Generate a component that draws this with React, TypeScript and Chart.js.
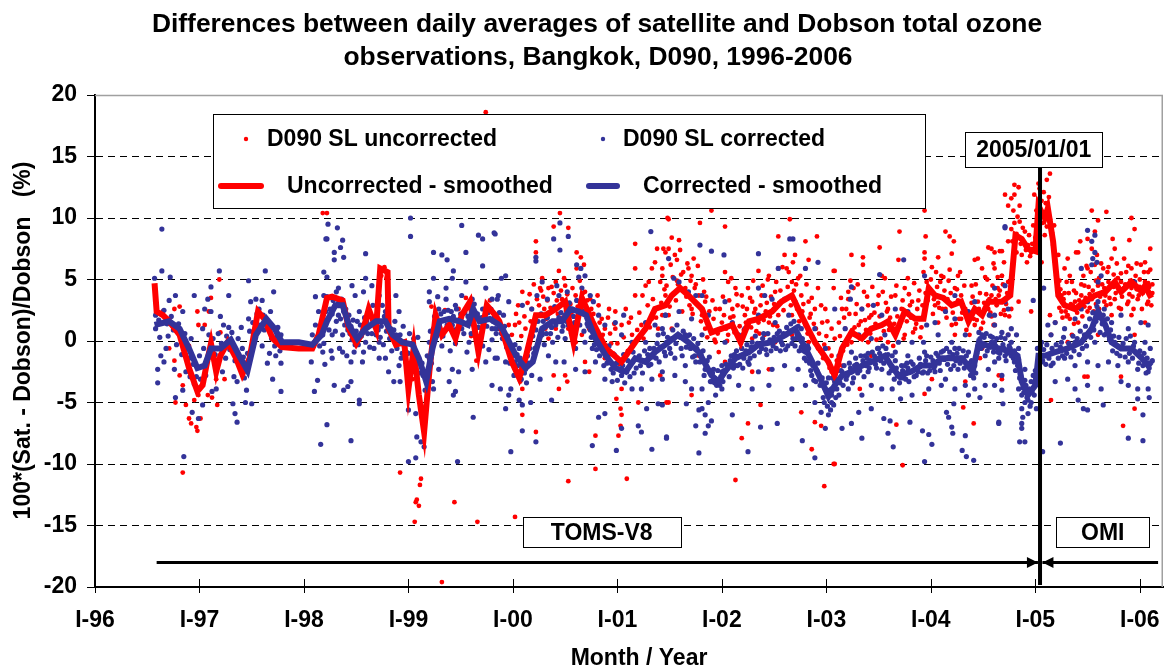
import React, { useEffect, useRef } from "react";
import { Chart, registerables } from "chart.js";

Chart.register(...registerables);

const FONT = "'Liberation Sans', Arial, Helvetica, sans-serif";
const RED = "#FF0000";
const BLUE = "#333399";

const titleLines = [
  "Differences between daily averages of satellite and Dobson total ozone",
  "observations, Bangkok, D090, 1996-2006",
];
const yAxisTitle = "100*(Sat. - Dobson)/Dobson   (%)";
const xAxisTitle = "Month / Year";

const yearTicks = [1996, 1997, 1998, 1999, 2000, 2001, 2002, 2003, 2004, 2005, 2006];
const yearLabels = ["I-96", "I-97", "I-98", "I-99", "I-00", "I-01", "I-02", "I-03", "I-04", "I-05", "I-06"];
const valueTicks = [20, 15, 10, 5, 0, -5, -10, -15, -20];

const seriesNames = ["D090 SL uncorrected", "D090 SL corrected", "Uncorrected - smoothed", "Corrected - smoothed"];
const changeDate = 2005.045;
const changeLabel = "2005/01/01";
const periodLabels = ["TOMS-V8", "OMI"];
const arrowLevel = -18;

// Smoothed series [decimal year, %]
const uncorrectedSmoothed: [number, number][] = [
  [1996.57,4.7],[1996.59,2.4],[1996.65,2.1],[1996.71,1.6],[1996.81,0.5],[1996.90,-2.2],[1996.98,-4.1],[1997.03,-3.6],
  [1997.08,-1.4],[1997.11,-0.2],[1997.16,-2.5],[1997.20,-1.2],[1997.27,-0.1],[1997.35,-1.4],[1997.41,-2.7],[1997.48,-1.4],
  [1997.56,2.4],[1997.62,1.8],[1997.70,0.2],[1997.79,-0.5],[1997.95,-0.6],[1998.08,-0.6],[1998.14,0.5],[1998.22,3.5],
  [1998.27,3.6],[1998.37,3.3],[1998.43,1.0],[1998.50,-0.2],[1998.56,0.7],[1998.62,2.6],[1998.69,1.0],[1998.73,5.9],
  [1998.80,5.6],[1998.81,1.0],[1998.88,-0.3],[1998.96,-0.1],[1999.00,-3.9],[1999.05,-0.6],[1999.10,-4.4],[1999.15,-7.4],
  [1999.20,-2.5],[1999.26,2.1],[1999.32,0.5],[1999.39,1.3],[1999.45,0.2],[1999.51,2.1],[1999.59,3.2],[1999.67,-0.9],
  [1999.75,2.9],[1999.83,2.1],[1999.87,1.6],[1999.99,-1.7],[2000.06,-3.0],[2000.12,-1.4],[2000.22,2.1],[2000.31,2.1],
  [2000.41,2.6],[2000.50,3.2],[2000.58,-0.1],[2000.66,3.5],[2000.76,1.6],[2000.89,-0.6],[2001.04,-1.7],[2001.17,-0.1],
  [2001.27,1.0],[2001.36,2.6],[2001.46,2.9],[2001.52,3.7],[2001.60,4.3],[2001.68,3.7],[2001.81,2.6],[2001.90,0.7],
  [2002.00,1.0],[2002.10,1.3],[2002.18,-0.1],[2002.26,1.6],[2002.35,1.8],[2002.48,2.4],[2002.57,3.2],[2002.67,3.7],
  [2002.76,2.1],[2002.89,-0.1],[2003.02,-1.7],[2003.08,-2.8],[2003.15,-0.6],[2003.24,0.7],[2003.34,0.2],[2003.43,1.0],
  [2003.53,1.3],[2003.59,1.6],[2003.66,0.5],[2003.75,2.4],[2003.85,1.8],[2003.93,1.8],[2003.98,4.3],[2004.04,3.7],
  [2004.12,3.5],[2004.20,2.9],[2004.29,3.2],[2004.36,1.6],[2004.42,2.6],[2004.49,2.1],[2004.55,3.2],[2004.68,3.2],
  [2004.76,3.7],[2004.81,8.6],[2004.87,8.3],[2004.93,7.5],[2005.00,7.3],[2005.03,11.0],[2005.09,10.0],[2005.12,10.8],
  [2005.17,8.1],[2005.22,3.7],[2005.28,2.9],[2005.38,2.6],[2005.47,3.2],[2005.57,3.7],[2005.67,4.0],[2005.76,4.8],
  [2005.82,4.0],[2005.92,4.8],[2006.02,4.0],[2006.05,4.5],[2006.11,3.5],
];

const correctedSmoothed: [number, number][] = [
  [1996.57,1.3],[1996.71,1.6],[1996.81,1.0],[1996.90,-0.6],[1996.98,-2.2],[1997.05,-2.0],[1997.11,-0.6],[1997.20,-0.6],
  [1997.30,0.1],[1997.38,-1.2],[1997.46,-2.4],[1997.54,0.5],[1997.64,1.8],[1997.72,1.0],[1997.79,-0.1],[1997.95,-0.1],
  [1998.08,-0.3],[1998.17,0.5],[1998.22,1.6],[1998.30,2.9],[1998.37,2.9],[1998.43,1.3],[1998.51,0.2],[1998.59,1.0],
  [1998.69,1.6],[1998.78,1.6],[1998.85,0.5],[1998.94,-0.1],[1999.04,-0.3],[1999.10,-1.4],[1999.17,-3.3],[1999.23,-0.6],
  [1999.30,1.6],[1999.39,1.8],[1999.49,1.6],[1999.57,1.3],[1999.62,2.6],[1999.68,1.6],[1999.78,1.8],[1999.87,1.3],
  [1999.90,1.0],[2000.03,-1.2],[2000.12,-2.2],[2000.19,-1.7],[2000.28,1.0],[2000.38,1.6],[2000.47,1.6],[2000.55,2.6],
  [2000.63,2.4],[2000.70,2.1],[2000.79,0.2],[2000.89,-1.2],[2000.98,-2.2],[2001.08,-2.5],[2001.17,-1.4],[2001.27,-1.7],
  [2001.36,-0.9],[2001.46,-0.3],[2001.58,0.5],[2001.68,-0.1],[2001.78,-0.9],[2001.90,-2.8],[2001.97,-3.3],[2002.03,-2.5],
  [2002.13,-1.4],[2002.26,-0.9],[2002.35,-0.3],[2002.48,-0.1],[2002.61,0.5],[2002.70,1.0],[2002.80,-0.6],[2002.93,-2.8],
  [2003.02,-4.5],[2003.08,-3.6],[2003.15,-2.8],[2003.24,-2.5],[2003.34,-2.0],[2003.43,-1.7],[2003.56,-1.2],[2003.62,-2.0],
  [2003.69,-2.8],[2003.81,-2.5],[2003.91,-2.0],[2004.01,-2.0],[2004.11,-1.4],[2004.20,-1.4],[2004.30,-1.4],[2004.40,-2.5],
  [2004.46,-0.1],[2004.55,-0.4],[2004.65,-0.6],[2004.78,-0.9],[2004.83,-1.2],[2004.87,-3.3],[2004.93,-4.4],[2005.00,-3.6],
  [2005.03,-1.2],[2005.09,-1.2],[2005.19,-0.9],[2005.31,-0.6],[2005.44,-0.1],[2005.54,1.0],[2005.60,2.4],[2005.67,1.3],
  [2005.73,-0.1],[2005.82,-0.6],[2005.92,-0.6],[2006.02,-1.4],[2006.08,-2.0],[2006.11,-1.7],
];

// Daily values [decimal year, %], uncorrected
const uncorrectedDaily: [number, number][] = [
  [1997.19,5.0],[1996.84,-10.7],[1996.65,2.4],[1996.76,2.6],[1996.81,2.8],[1996.98,2.4],[1997.05,1.3],[1997.09,2.4],
  [1997.11,3.5],[1997.20,0.7],[1996.81,-2.8],[1996.84,-3.6],[1996.77,-5.0],[1996.87,-5.2],[1996.90,-6.3],[1996.92,-6.7],
  [1996.97,-7.0],[1996.98,-7.3],[1997.01,-6.3],[1996.95,-4.8],[1996.99,-4.4],[1997.08,-4.4],[1997.12,-4.6],[1997.17,-5.2],
  [1996.76,-1.6],[1996.71,-0.6],[1996.90,-0.4],[1996.99,1.3],[1997.16,-3.1],[1997.24,-3.1],[1998.18,10.4],[1998.08,-0.6],
  [1998.22,10.4],[1999.74,18.6],[1998.92,-10.7],[1999.12,-11.2],[1999.11,-11.7],[1999.08,-12.9],[1999.10,-13.4],[1999.07,-13.1],
  [1999.06,-14.7],[1999.44,-13.1],[1999.66,-14.7],[1999.32,-19.6],[1998.97,-1.7],[1999.04,-3.1],
  [1999.22,2.8],[1999.28,1.6],[1999.35,2.5],[1999.48,2.6],[1999.55,3.5],[1999.60,0.4],[1999.65,-1.6],[1999.70,1.8],
  [1999.78,3.3],[1998.74,5.3],[1998.77,6.0],[1998.79,5.1],
  [2000.45,10.4],[2000.39,9.3],[2000.53,9.2],[2000.22,8.1],[2000.22,7.2],[2000.61,7.2],[2000.65,6.8],[2000.68,6.2],
  [2000.44,5.7],[2000.49,5.1],[2000.61,5.9],[2000.28,5.1],[2000.26,4.3],[2000.09,4.0],[2000.34,4.3],[2000.41,4.8],
  [2000.50,4.5],[2000.57,4.3],[2000.69,4.0],[2000.74,3.4],[2000.81,3.7],[2000.82,2.9],[2000.92,2.6],[2000.98,2.4],
  [2001.08,2.6],[2001.17,3.7],[2001.17,5.9],[2001.33,5.9],[2001.36,6.4],[2001.38,7.5],[2001.46,7.2],[2001.27,4.5],
  [2001.24,3.7],[2001.30,4.8],[2001.43,5.3],[2001.17,7.9],[2001.48,10.0],
  [1999.96,1.3],[2000.02,1.3],[2000.06,1.5],[1999.99,0.5],[1999.86,1.5],[2000.12,1.0],[2000.18,2.6],[2000.31,1.0],
  [2000.34,0.2],[2000.41,1.0],[2000.53,1.0],[2000.66,0.5],[2000.73,1.0],[2000.79,0.5],[2000.88,1.0],[2000.98,1.0],
  [2001.04,1.3],[2001.11,1.5],[2001.14,0.5],[2001.23,1.3],[2001.33,1.8],[2001.43,2.1],[2001.39,1.0],[2000.85,1.8],
  [2000.02,-2.3],[2000.07,-3.3],[2000.09,-6.0],[2000.09,-3.9],[2000.06,-2.5],[2000.22,-7.4],[2000.79,-7.7],[2000.79,-10.4],
  [2000.53,-11.4],[2001.09,-11.2],[2001.01,-7.7],[2001.03,-6.9],[2001.04,-6.0],[2001.03,-5.5],[2000.99,-4.7],[2001.04,-3.9],
  [2001.49,-5.0],[2001.20,-5.0],[2000.02,-14.3],[2000.39,-2.8],[2000.44,-3.9],[2000.52,-3.3],[2000.60,-0.1],[2000.69,-1.7],
  [2000.73,-2.5],[2000.88,-1.4],[2000.50,-2.8],
  [2000.03,2.2],[2000.08,0.4],[2000.14,3.1],[2000.17,1.6],[2000.20,4.6],[2000.25,2.9],[2000.29,3.6],[2000.32,1.8],
  [2000.36,2.7],[2000.39,3.9],[2000.43,2.2],[2000.47,3.4],[2000.51,2.5],[2000.55,3.0],[2000.59,1.2],[2000.62,2.8],
  [2000.64,4.9],[2000.70,2.6],[2000.72,1.9],[2000.77,2.2],[2000.80,0.9],[2000.84,0.2],[2000.90,-0.4],[2000.93,0.6],
  [2000.96,-1.0],[2001.00,-0.2],[2001.02,-1.9],[2001.06,0.3],[2001.10,-0.8],[2001.13,1.9],[2001.19,0.9],[2001.21,2.3],
  [2001.25,0.2],[2001.29,2.9],[2001.31,1.1],[2001.34,3.4],[2001.37,1.9],
  [2000.05,2.9],[2000.11,2.0],[2000.16,3.8],[2000.19,0.9],[2000.23,3.4],[2000.27,4.1],[2000.30,2.6],[2000.33,3.3],
  [2000.37,4.4],[2000.42,3.3],[2000.46,4.1],[2000.48,1.9],[2000.52,3.8],[2000.56,2.2],[2000.60,3.7],[2000.63,2.1],
  [2000.67,3.9],[2000.71,3.3],[2000.75,2.6],[2000.78,1.3],[2000.83,1.5],[2000.86,0.5],[2000.91,1.9],[2000.94,-0.2],
  [2000.97,1.4],
  [2001.90,10.6],[2001.49,9.9],[2002.65,9.9],[2001.79,9.6],[2002.03,9.3],[2001.52,8.4],[2001.59,8.2],[2002.54,8.5],
  [2002.80,8.1],[2002.91,8.5],[2001.44,7.5],[2001.49,7.5],[2001.60,7.4],[2001.73,6.7],[2001.55,7.0],[2001.68,5.9],
  [2002.03,5.6],[2002.35,5.7],[2002.60,7.0],[2002.70,7.0],[2002.83,6.6],[2002.45,5.3],[2002.54,5.9],[2002.62,5.9],
  [2002.73,5.1],[2003.07,5.7],[2002.92,4.3],[2001.41,4.8],[2001.46,3.7],[2001.57,4.9],[2001.65,4.3],[2001.74,4.3],
  [2001.84,3.2],[2001.78,3.7],[2001.94,2.6],[2002.06,4.8],[2002.13,4.3],[2002.19,3.7],[2002.25,4.3],[2002.29,3.2],
  [2002.38,3.7],[2002.51,4.0],[2002.67,4.8],[2002.76,3.7],[2002.83,3.2],[2002.89,2.6],[2002.96,1.5],[2003.05,1.0],
  [2002.99,2.6],[2001.49,2.1],[2001.71,2.6],[2001.81,2.1],[2002.00,1.5],[2002.10,2.6],[2002.22,2.1],[2002.35,1.5],
  [2002.45,1.5],[2002.54,2.1],[2002.67,2.1],[2002.80,1.3],[2001.52,1.0],[2001.65,0.5],[2001.84,1.0],[2001.94,-0.1],
  [2002.06,0.5],[2002.19,-0.6],[2002.29,0.2],[2002.41,0.5],[2002.51,-0.1],[2002.67,0.5],[2002.83,-0.1],[2002.92,-0.6],
  [2003.02,-0.6],[2001.78,-1.2],[2001.97,-0.9],[2002.03,-1.7],[2002.29,-2.5],[2002.45,-2.3],[2001.41,-2.8],[2001.71,-4.4],
  [2001.47,-5.0],[2002.37,-5.2],[2002.76,-5.8],[2002.25,-6.7],[2002.89,-6.6],[2002.95,-6.9],[2002.19,-7.9],[2003.07,-10.0],
  [2002.13,-11.3],[2002.98,-11.8],[2002.86,-8.8],
  [2001.42,3.1],[2001.45,4.2],[2001.50,2.8],[2001.53,5.2],[2001.56,3.3],[2001.58,4.6],[2001.62,2.4],[2001.63,5.6],
  [2001.66,3.6],[2001.70,4.9],[2001.72,2.2],[2001.76,3.0],[2001.80,1.6],[2001.83,4.0],[2001.86,0.3],[2001.88,2.4],
  [2001.92,1.8],[2001.96,0.6],[2002.02,2.1],[2002.05,0.0],[2002.08,1.9],[2002.12,0.7],[2002.15,2.9],[2002.17,1.2],
  [2002.21,0.9],[2002.24,2.6],[2002.28,1.1],[2002.31,2.3],[2002.33,0.8],[2002.37,2.9],[2002.40,1.7],[2002.43,3.1],
  [2002.46,2.0],[2002.50,3.0],[2002.53,1.2],[2002.56,4.1],[2002.59,2.5],[2002.63,4.4],[2002.66,2.9],[2002.69,4.1],
  [2002.72,2.6],[2002.74,1.6],[2002.78,3.0],[2002.82,0.6],[2002.85,2.2],[2002.87,0.3],[2002.90,1.0],[2002.94,-0.8],
  [2002.97,-1.4],[2003.00,0.4],[2003.03,-2.2],[2003.06,-3.0],[2003.10,-1.6],
  [2001.43,5.9],[2001.47,4.5],[2001.51,6.2],[2001.54,3.9],[2001.57,6.6],[2001.61,5.4],[2001.64,4.2],[2001.67,6.3],
  [2001.69,2.9],[2001.71,5.3],[2001.75,4.6],[2001.77,6.1],[2001.82,5.0],[2001.85,3.6],[2001.87,1.3],[2001.91,3.3],
  [2001.93,0.1],[2001.98,2.6],[2002.01,3.6],[2002.04,1.0],[2002.07,3.3],[2002.09,5.1],[2002.11,2.0],[2002.14,3.8],
  [2002.16,0.4],[2002.20,2.8],[2002.23,1.5],[2002.27,3.5],[2002.30,4.9],[2002.32,2.6],[2002.36,0.6],[2002.39,4.5],
  [2002.42,2.4],[2002.44,5.0],[2002.47,3.6],[2002.49,1.3],[2002.52,4.8],[2002.55,3.1],[2002.58,6.0],[2002.61,3.4],
  [2002.64,5.6],[2002.68,6.4],[2002.71,4.6],[2002.75,5.3],[2002.77,2.4],[2002.81,4.6],[2002.84,1.9],[2002.86,3.5],
  [2002.88,1.4],[2002.93,0.6],[2002.95,2.9],[2002.98,-0.3],[2003.01,1.6],
  [2003.94,10.6],[2003.70,8.9],[2004.14,8.9],[2004.18,8.5],[2004.22,8.1],[2003.95,8.5],[2003.51,7.6],[2003.24,7.0],
  [2003.35,6.8],[2003.35,6.2],[2003.69,6.6],[2003.94,7.2],[2003.94,6.7],[2004.07,6.8],[2004.20,7.1],[2004.42,6.6],
  [2004.45,6.7],[2004.55,7.6],[2004.61,7.2],[2004.68,7.3],[2004.60,6.3],[2003.08,5.7],[2003.07,4.3],[2003.21,4.0],
  [2003.26,4.3],[2003.53,5.3],[2003.56,5.1],[2003.75,4.3],[2003.78,5.1],[2003.93,5.6],[2003.96,4.8],[2004.10,5.3],
  [2004.17,4.9],[2004.26,5.3],[2004.23,4.3],[2004.39,4.5],[2004.49,5.9],[2004.52,5.2],[2004.68,5.3],[2003.15,2.6],
  [2003.21,3.4],[2003.34,2.6],[2003.40,2.9],[2003.50,3.7],[2003.66,3.7],[2003.43,2.1],[2003.59,2.6],[2003.72,2.6],
  [2003.82,3.2],[2004.04,2.9],[2004.14,2.6],[2004.29,3.7],[2004.33,2.6],[2004.45,3.2],[2004.55,2.6],[2004.65,3.7],
  [2004.71,2.1],[2003.12,1.5],[2003.18,1.0],[2003.31,1.3],[2003.53,1.3],[2003.66,1.0],[2003.85,1.0],[2004.07,1.5],
  [2004.20,1.3],[2004.29,1.8],[2004.42,1.3],[2004.61,1.3],[2003.08,0.2],[2003.24,-0.1],[2003.40,-0.1],[2003.59,-0.1],
  [2003.75,0.5],[2004.23,0.5],[2004.49,-0.6],[2003.05,-1.2],[2003.05,-2.5],[2003.15,-2.0],[2003.43,-1.2],[2004.01,-3.1],
  [2004.33,-3.3],[2004.47,-1.4],[2003.08,-3.3],[2003.32,-3.9],[2003.94,-4.3],[2004.31,-5.4],[2003.67,-6.8],[2004.41,-6.7],
  [2003.08,-10.0],[2003.73,-10.1],[2004.65,-2.8],
  [2003.13,0.4],[2003.17,1.9],[2003.20,-0.3],[2003.22,2.2],[2003.27,1.1],[2003.29,3.0],[2003.32,0.2],[2003.37,1.7],
  [2003.39,3.6],[2003.42,0.6],[2003.46,2.3],[2003.48,0.1],[2003.51,2.0],[2003.55,0.8],[2003.57,3.1],[2003.61,1.9],
  [2003.64,-0.4],[2003.68,2.0],[2003.70,1.2],[2003.73,3.3],[2003.77,1.6],[2003.80,2.9],[2003.83,0.7],[2003.87,2.6],
  [2003.89,4.1],[2003.91,1.1],[2003.97,3.3],[2004.00,5.0],[2004.02,2.2],[2004.06,4.4],[2004.08,2.7],[2004.13,4.1],
  [2004.15,1.9],[2004.19,3.9],[2004.21,2.3],[2004.25,4.2],[2004.27,1.8],[2004.31,2.7],[2004.34,0.9],[2004.38,2.1],
  [2004.40,3.6],[2004.44,1.7],[2004.47,3.9],[2004.50,1.5],[2004.53,3.8],[2004.57,2.3],[2004.59,4.5],[2004.63,2.9],
  [2004.66,4.1],[2004.70,2.5],[2004.73,3.9],
  [2003.14,3.5],[2003.16,-0.8],[2003.19,2.6],[2003.23,4.9],[2003.25,0.9],[2003.28,2.2],[2003.30,4.6],[2003.33,1.6],
  [2003.36,4.0],[2003.38,0.9],[2003.41,1.9],[2003.44,4.4],[2003.47,1.4],[2003.49,3.0],[2003.52,0.2],[2003.54,4.0],
  [2003.58,2.4],[2003.60,0.9],[2003.62,3.6],[2003.65,1.4],[2003.67,4.5],[2003.71,1.7],[2003.74,0.2],[2003.76,2.4],
  [2003.79,3.8],[2003.81,1.9],[2003.84,4.7],[2003.86,1.4],[2003.88,3.3],[2003.90,0.3],[2003.92,2.9],[2003.95,3.9],
  [2003.99,4.1],[2004.01,6.0],[2004.03,3.4],[2004.05,5.6],[2004.07,3.1],[2004.09,4.8],[2004.11,2.6],[2004.12,5.2],
  [2004.16,3.4],[2004.18,5.8],[2004.22,3.0],[2004.24,1.4],[2004.26,3.3],[2004.28,5.6],[2004.30,2.3],[2004.32,4.5],
  [2004.35,2.4],[2004.37,0.5],[2004.39,3.1],[2004.41,1.8],[2004.43,4.6],[2004.46,2.6],[2004.48,1.0],[2004.51,3.1],
  [2004.54,5.0],[2004.56,3.4],[2004.58,2.0],[2004.62,3.4],[2004.64,5.2],[2004.67,2.2],[2004.69,4.6],[2004.72,3.0],
  [2004.75,2.0],
  [2005.14,13.6],[2005.03,12.8],[2005.11,13.1],[2004.99,11.9],[2005.04,11.6],[2005.08,12.1],[2005.01,10.6],[2004.80,12.7],
  [2004.84,12.5],[2004.80,11.9],[2004.74,11.0],[2004.79,10.6],[2004.85,11.0],[2004.71,11.9],[2004.77,11.6],[2004.85,9.7],
  [2004.77,9.1],[2004.90,8.9],[2004.93,7.8],[2004.96,7.2],[2004.87,7.0],[2004.92,6.4],[2004.82,7.2],[2004.74,8.1],
  [2004.58,7.5],[2004.66,7.3],[2004.70,6.4],[2004.61,5.9],[2004.68,5.3],[2004.74,4.8],[2004.64,4.3],[2004.58,3.7],
  [2004.71,3.2],[2004.84,3.2],[2005.06,6.4],[2005.09,8.6],[2005.17,7.8],[2005.19,6.4],[2005.22,7.0],[2005.31,6.7],
  [2005.28,5.9],[2005.30,4.8],[2005.41,7.2],[2005.50,8.3],[2005.54,10.6],[2005.68,10.5],[2005.60,9.8],[2005.57,8.9],
  [2005.54,7.5],[2005.59,7.0],[2005.57,6.2],[2005.50,5.9],[2005.65,5.9],[2005.74,8.3],[2005.76,7.5],[2005.73,6.7],
  [2005.92,10.0],[2005.95,9.1],[2005.90,8.2],[2005.85,6.7],[2005.92,5.9],[2006.01,6.2],[2006.08,5.6],[2006.10,7.5],
  [2005.43,8.1],[2005.39,7.2],[2005.35,4.8],[2005.47,4.5],[2005.60,4.5],[2005.70,4.8],[2005.82,4.8],[2005.95,4.5],
  [2006.05,4.8],[2005.25,3.7],[2005.38,3.2],[2005.44,3.7],[2005.54,3.4],[2005.66,3.2],[2005.76,3.4],[2005.89,3.2],
  [2005.98,3.4],[2006.08,3.2],[2005.14,2.1],[2005.19,1.5],[2005.31,2.1],[2005.41,1.5],[2005.50,2.4],[2005.63,2.1],
  [2005.73,2.1],[2005.82,2.6],[2005.92,2.1],[2006.05,1.5],[2005.15,0.5],[2005.35,0.5],[2005.60,0.5],[2005.95,0.5],
  [2005.31,-0.1],[2005.47,-2.9],[2005.50,-2.9],[2005.82,-2.9],[2005.95,-5.5],[2005.84,-6.9],[2004.77,2.6],[2004.96,2.4],
  [2004.60,1.3],[2004.74,0.5],[2004.68,-3.1],[2005.15,-4.8],
  [2004.78,8.1],[2004.80,9.6],[2004.82,8.7],[2004.83,10.1],[2004.86,7.9],[2004.88,9.2],[2004.89,8.0],[2004.91,7.4],
  [2004.94,8.6],[2004.95,6.9],[2004.97,7.9],[2004.98,9.4],[2005.00,8.4],[2005.02,10.2],[2005.04,12.4],[2005.05,10.4],
  [2005.06,11.4],[2005.07,9.6],[2005.10,11.2],[2005.11,9.3],[2005.13,11.7],[2005.14,9.9],[2005.16,8.8],[2005.18,9.4],
  [2005.20,5.3],[2005.21,4.4],
  [2005.23,2.7],[2005.24,4.2],[2005.26,1.9],[2005.27,3.4],[2005.29,2.4],[2005.32,3.9],[2005.33,1.8],[2005.36,2.9],
  [2005.37,4.1],[2005.40,2.3],[2005.42,3.3],[2005.45,2.0],[2005.46,5.3],[2005.48,3.5],[2005.51,4.4],[2005.52,2.7],
  [2005.55,4.1],[2005.58,3.0],[2005.61,5.1],[2005.62,3.6],[2005.64,4.6],[2005.67,3.7],[2005.69,5.6],[2005.71,3.5],
  [2005.72,4.5],[2005.75,5.4],[2005.77,3.9],[2005.79,5.1],[2005.80,4.1],[2005.83,3.6],[2005.86,4.6],[2005.87,5.6],
  [2005.90,3.8],[2005.91,4.9],[2005.93,3.6],[2005.96,5.3],[2005.97,4.2],[2005.99,3.7],[2006.00,5.0],[2006.03,3.9],
  [2006.04,5.6],[2006.06,4.1],[2006.07,3.0],[2006.09,4.4],[2006.11,2.9],[2006.12,3.9],
  [2005.23,4.9],[2005.25,2.4],[2005.28,3.9],[2005.30,2.0],[2005.33,5.3],[2005.34,3.0],[2005.37,1.4],[2005.39,3.9],
  [2005.41,2.7],[2005.44,4.6],[2005.47,2.8],[2005.49,6.1],[2005.52,3.8],[2005.53,5.6],[2005.56,2.4],[2005.58,4.9],
  [2005.61,2.6],[2005.63,6.3],[2005.66,4.3],[2005.68,2.9],[2005.70,6.0],[2005.72,3.0],[2005.75,4.4],[2005.78,6.3],
  [2005.80,2.7],[2005.82,5.5],[2005.85,4.3],[2005.88,3.0],[2005.89,6.1],[2005.92,4.3],[2005.94,2.6],[2005.97,6.3],
  [2006.00,4.4],[2006.02,2.6],[2006.05,6.4],[2006.08,4.7],[2006.10,5.8],[2006.12,4.6],
];

// Daily values [decimal year, %], corrected
const correctedDaily: [number, number][] = [
  [1996.64,9.1],[1996.57,5.1],[1996.64,5.7],[1996.72,5.2],[1997.19,5.7],[1997.63,5.7],[1997.47,4.9],[1997.28,3.7],
  [1997.11,4.4],[1997.71,4.0],[1996.95,3.7],[1996.85,-9.4],[1998.16,-8.4],[1998.22,-6.8],[1998.22,8.3],[1998.22,5.2],
  [1997.36,-6.6],[1997.34,-5.9],[1996.60,-3.4],[1996.60,-2.3],[1996.77,-4.6],[1997.78,-4.1],[1998.10,-4.1],[1997.50,-5.1],
  [1997.44,-5.0],[1997.32,-5.1],[1996.93,-5.8],[1996.99,-6.3],[1997.03,-5.2],[1996.84,-4.0],[1997.45,-4.0],[1997.36,-3.3],
  [1997.33,-2.9],[1997.70,-3.1],[1997.65,-1.8],[1997.78,-1.8],[1998.07,-1.7],[1998.13,-3.2],[1996.58,1.0],[1996.58,2.1],
  [1996.66,-1.7],[1996.68,-0.6],[1996.77,3.7],[1996.84,2.4],[1996.71,3.3],[1997.11,2.4],[1997.20,2.0],[1997.28,1.1],
  [1997.40,1.1],[1997.47,1.8],[1997.49,3.2],[1997.54,3.4],[1997.60,3.3],[1997.57,2.6],[1997.75,1.1],[1997.78,0.5],
  [1997.60,-0.4],[1997.67,-1.0],[1997.73,-1.2],[1997.25,-1.4],[1997.22,-2.5],[1997.16,-3.9],[1997.12,-4.1],[1997.06,-2.8],
  [1996.90,-1.4],[1996.87,-2.5],[1996.95,-3.5],[1997.32,-0.6],[1997.41,-0.6],[1997.03,1.0],[1997.05,2.6],[1997.08,3.4],
  [1998.11,3.6],[1998.14,2.4],[1998.11,1.3],[1998.08,0.5],[1998.19,3.7],[1996.76,-2.3],[1996.63,-1.2],
  [1996.61,1.7],[1996.62,0.3],[1996.66,2.5],[1996.69,1.4],[1996.70,0.4],[1996.73,2.0],[1996.75,0.9],[1996.78,-0.3],
  [1996.80,1.4],[1996.83,-1.1],[1996.86,0.6],[1996.88,-0.6],[1996.91,-2.9],[1996.92,0.2],[1996.94,-1.9],[1996.97,-2.9],
  [1997.00,-1.2],[1997.01,-3.1],[1997.04,-0.6],[1997.07,-1.6],[1997.09,0.5],[1997.10,-1.3],[1997.13,0.2],[1997.15,-1.1],
  [1997.18,0.6],[1997.21,-0.2],[1997.23,1.3],[1997.26,0.4],[1997.29,-0.7],[1997.31,0.7],[1997.34,-1.6],[1997.37,0.2],
  [1997.39,-2.0],[1997.42,-1.3],[1997.43,-3.0],[1997.46,-1.0],[1997.48,0.8],[1997.51,1.5],[1997.52,-0.2],[1997.55,2.2],
  [1997.58,1.3],[1997.61,2.1],[1997.62,0.9],[1997.66,1.1],[1997.68,2.4],[1997.69,0.2],[1997.72,-0.4],[1997.74,0.4],
  [1997.77,-0.8],[1997.80,-0.2],
  [1998.23,9.5],[1998.32,9.2],[1998.21,8.3],[1998.29,7.2],[1998.37,8.2],[1998.35,7.6],[1998.38,6.8],[1998.29,6.6],
  [1998.59,7.1],[1999.02,10.0],[1999.02,8.5],[1999.24,7.2],[1999.51,9.4],[1999.67,8.6],[1999.71,8.3],[1999.82,8.8],
  [1999.32,7.0],[1999.37,6.6],[1999.71,6.1],[1999.43,5.7],[1999.55,7.2],[1998.19,5.6],[1998.59,5.1],[1998.88,3.7],
  [1999.24,5.1],[1999.42,5.1],[1999.55,4.8],[1999.20,4.0],[1998.46,4.5],[1998.33,4.3],[1999.36,4.3],[1999.74,4.3],
  [1998.22,3.6],[1998.49,3.7],[1998.57,4.0],[1998.65,4.5],[1998.72,3.7],[1998.81,3.4],[1998.91,2.4],[1999.20,3.2],
  [1999.29,2.6],[1999.36,3.4],[1999.45,2.9],[1999.51,3.7],[1999.61,3.4],[1999.71,2.6],[1999.80,3.4],[1998.21,2.4],
  [1998.33,2.1],[1998.43,2.1],[1998.53,2.4],[1998.62,2.2],[1998.69,0.5],[1998.78,2.4],[1999.24,1.0],[1999.36,1.0],
  [1999.42,1.3],[1999.51,1.0],[1999.64,1.0],[1999.80,1.0],[1998.18,0.5],[1998.27,0.5],[1998.37,0.5],[1998.46,0.1],
  [1998.59,-0.1],[1998.72,-0.1],[1998.88,0.5],[1999.20,-0.1],[1999.32,-0.4],[1999.45,-0.2],[1999.58,-0.1],[1999.71,-0.4],
  [1999.80,0.1],[1998.18,-0.9],[1998.27,-1.4],[1998.37,-0.9],[1998.45,-1.7],[1998.56,-1.7],[1998.72,-1.4],[1998.78,-1.4],
  [1998.91,-2.0],[1998.94,-1.0],[1999.20,-1.4],[1999.29,-2.3],[1999.42,-2.3],[1999.48,-2.5],[1999.61,-2.3],[1999.74,-1.7],
  [1999.83,-1.4],[1998.29,-3.6],[1998.38,-4.0],[1998.45,-3.3],[1998.42,-3.7],[1998.53,-4.8],[1998.53,-5.1],[1998.81,-2.5],
  [1998.86,-3.3],[1998.92,-3.3],[1999.00,-5.6],[1999.07,-5.9],[1999.08,-7.8],[1999.12,-8.2],[1999.15,-8.6],[1999.00,-9.8],
  [1999.07,-9.5],[1998.45,-8.1],[1999.47,-9.8],[1999.43,-4.4],[1999.45,-4.1],[1999.62,-6.2],[1999.24,-3.9],[1999.39,-3.3],
  [1999.80,-3.6],[1999.23,-3.3],
  [1998.15,-0.4],[1998.18,1.4],[1998.20,-1.9],[1998.24,0.9],[1998.25,2.6],[1998.26,-0.8],[1998.28,3.3],[1998.31,1.6],
  [1998.31,4.0],[1998.34,-0.6],[1998.36,3.4],[1998.39,1.3],[1998.40,2.6],[1998.41,-1.2],[1998.44,0.6],[1998.47,1.7],
  [1998.48,-0.9],[1998.50,0.8],[1998.52,-0.3],[1998.54,1.3],[1998.57,-0.9],[1998.58,1.9],[1998.61,0.6],[1998.63,-0.5],
  [1998.64,1.3],[1998.66,2.9],[1998.67,-0.6],[1998.70,2.0],[1998.71,0.9],[1998.74,1.2],[1998.75,2.9],[1998.76,-0.3],
  [1998.79,0.8],[1998.80,2.6],[1998.83,1.0],[1998.84,-0.8],[1998.87,1.6],[1998.89,-0.6],[1998.90,0.4],[1998.93,-1.4],
  [1998.95,1.2],[1998.98,-0.9],[1999.01,0.6],[1999.03,-2.1],[1999.06,-0.9],[1999.09,0.3],[1999.11,-2.6],[1999.13,-1.8],
  [1999.16,-4.0],[1999.18,-1.2],[1999.21,0.8],[1999.22,-1.8],[1999.25,2.0],[1999.27,0.4],[1999.28,3.6],[1999.31,2.2],
  [1999.33,0.4],[1999.35,1.7],[1999.38,2.5],[1999.40,-0.8],[1999.41,2.4],[1999.44,0.9],[1999.46,2.6],[1999.47,1.0],
  [1999.50,2.2],[1999.53,0.6],[1999.54,2.3],[1999.56,-0.9],[1999.59,1.9],[1999.60,0.6],[1999.63,3.0],[1999.65,1.1],
  [1999.66,2.2],[1999.69,0.2],[1999.70,1.9],[1999.73,2.6],[1999.75,1.2],[1999.77,-0.7],[1999.79,2.6],[1999.81,1.6],
  [1999.84,0.6],[1999.87,2.3],[1999.92,1.2],[1999.95,0.4],[1999.97,-1.8],
  [1998.16,0.9],[1998.19,-0.2],[1998.23,1.8],[1998.27,2.2],[1998.30,0.8],[1998.33,3.1],[1998.35,1.8],[1998.38,2.4],
  [1998.42,0.9],[1998.45,1.2],[1998.49,-0.3],[1998.51,1.6],[1998.55,0.4],[1998.60,1.6],[1998.65,0.6],[1998.68,1.8],
  [1998.73,0.3],[1998.77,2.0],[1998.82,0.2],[1998.86,0.9],[1998.92,0.5],[1998.96,-0.4],[1999.00,-1.0],[1999.05,0.2],
  [1999.08,-1.3],[1999.14,-2.8],[1999.19,-2.2],[1999.24,-0.2],[1999.26,1.2],[1999.30,0.9],[1999.34,2.4],[1999.37,1.3],
  [1999.40,1.6],[1999.43,2.0],[1999.48,1.7],[1999.52,1.4],[1999.57,2.0],[1999.61,1.4],[1999.64,2.0],[1999.67,1.1],
  [1999.72,1.4],[1999.76,2.3],[1999.82,1.9],[1999.86,1.0],[1999.89,0.6],[1999.91,2.1],[1999.94,-0.5],[1999.99,-1.2],
  [1999.83,8.7],[2001.32,8.9],[2000.45,9.6],[2000.45,7.4],[2000.39,8.3],[2000.53,8.5],[2000.22,6.8],[2000.22,6.5],
  [2000.61,6.2],[2000.65,5.9],[1999.93,5.3],[1999.89,5.1],[2000.28,4.8],[2000.42,4.5],[2000.63,5.2],[2000.69,5.3],
  [1999.86,3.7],[1999.85,3.4],[1999.96,3.2],[2000.09,2.9],[2000.18,2.6],[2000.23,3.7],[2000.33,3.4],[2000.44,3.7],
  [2000.52,4.0],[2000.66,4.3],[2000.74,3.7],[2000.77,3.2],[2000.82,2.1],[2000.88,1.3],[2000.98,1.5],[2001.06,2.1],
  [2001.27,1.5],[2001.36,1.3],[2001.46,2.1],[1999.83,1.0],[1999.90,0.2],[1999.96,-0.1],[2000.06,-0.6],[2000.28,0.5],
  [2000.38,-0.1],[2000.50,0.2],[2000.60,-0.6],[2000.69,-0.1],[2000.76,-0.6],[2000.85,-0.6],[2001.04,0.5],[2001.14,-0.1],
  [2001.27,-0.1],[2001.39,0.5],[2001.47,-0.1],[1999.85,-1.4],[1999.93,-1.7],[2000.02,-1.7],[2000.12,-2.3],[2000.18,-2.8],
  [2000.26,-3.1],[2000.34,-1.2],[2000.41,-1.7],[2000.49,-1.7],[2000.60,-2.3],[2000.69,-2.5],[2000.79,-1.7],[2000.88,-3.1],
  [2000.95,-3.3],[2001.04,-2.8],[2001.14,-3.9],[2001.23,-3.9],[2001.33,-3.1],[2001.43,-2.5],[1999.88,-3.9],[1999.96,-4.4],
  [1999.98,-3.9],[2000.09,-5.2],[2000.17,-5.0],[2000.06,-4.8],[1999.93,-5.5],[2000.09,-7.3],[2000.22,-8.2],[1999.98,-9.0],
  [2000.37,-4.8],[2000.82,-6.2],[2000.88,-5.9],[2000.76,-8.5],[2000.99,-8.9],[2001.04,-7.1],[2001.20,-6.9],[2001.23,-7.4],
  [2001.28,-5.5],[2001.33,-8.8],[2001.47,-7.8],[2001.39,-5.1],
  [2000.00,-0.8],[2000.01,-2.8],[2000.04,-1.1],[2000.05,-2.0],[2000.08,-3.1],[2000.10,-1.6],[2000.13,-3.4],[2000.15,-1.8],
  [2000.16,-0.6],[2000.19,0.4],[2000.21,-0.6],[2000.24,1.6],[2000.27,2.2],[2000.30,-0.3],[2000.32,0.6],[2000.35,2.3],
  [2000.37,1.1],[2000.40,2.8],[2000.43,0.3],[2000.46,2.3],[2000.48,1.2],[2000.51,1.6],[2000.54,3.1],[2000.56,0.6],
  [2000.58,2.0],[2000.61,3.3],[2000.64,1.3],[2000.67,2.9],[2000.68,0.8],[2000.71,1.4],[2000.74,0.9],[2000.78,-0.3],
  [2000.81,0.6],[2000.83,-1.2],[2000.86,-0.3],[2000.87,-2.0],[2000.90,-1.8],[2000.92,-0.4],[2000.94,-2.3],[2000.97,-1.1],
  [2001.00,-3.2],[2001.01,-1.6],[2001.05,-2.0],[2001.07,-3.4],[2001.10,-1.6],[2001.12,-2.9],[2001.15,-0.9],[2001.18,-2.2],
  [2001.21,-1.2],[2001.24,-2.6],[2001.26,-0.8],[2001.30,-2.0],[2001.31,-0.6],[2001.34,-1.3],[2001.38,-0.2],[2001.40,-1.7],
  [2001.44,0.6],[2001.45,-0.9],
  [2000.02,-0.3],[2000.07,-1.4],[2000.11,-2.6],[2000.14,-1.2],[2000.20,-1.0],[2000.22,0.9],[2000.26,0.4],[2000.29,1.6],
  [2000.33,1.9],[2000.36,0.6],[2000.41,1.3],[2000.44,1.9],[2000.47,0.8],[2000.50,2.1],[2000.53,1.3],[2000.57,2.6],
  [2000.59,1.5],[2000.62,2.0],[2000.66,2.5],[2000.70,2.4],[2000.72,1.2],[2000.75,0.3],[2000.80,-0.7],[2000.84,0.2],
  [2000.88,-0.9],[2000.91,-1.2],[2000.96,-2.6],[2000.99,-1.8],[2001.03,-2.4],[2001.06,-1.1],[2001.09,-2.5],[2001.13,-1.8],
  [2001.16,-2.6],[2001.19,-1.4],[2001.22,-2.0],[2001.25,-1.6],[2001.29,-1.1],[2001.32,-1.9],[2001.35,-0.6],[2001.37,-1.4],
  [2001.41,-0.5],
  [2001.79,7.8],[2001.90,7.3],[2002.02,7.0],[2002.35,7.1],[2002.54,5.9],[2002.65,8.3],[2002.68,8.3],[2002.80,5.9],
  [2002.92,6.4],[2001.49,6.7],[2001.54,5.1],[2001.59,4.8],[2001.68,4.0],[2001.75,3.7],[2001.81,3.7],[2002.03,3.2],
  [2002.35,4.3],[2002.41,3.7],[2002.48,3.4],[2002.60,3.4],[2002.70,3.2],[2001.46,2.1],[2001.59,2.4],[2001.71,1.8],
  [2001.87,2.1],[2002.10,1.5],[2002.22,1.0],[2002.35,2.1],[2002.51,1.5],[2002.64,2.1],[2002.76,1.0],[2002.89,1.0],
  [2001.43,1.0],[2001.52,0.2],[2001.65,0.5],[2001.81,0.5],[2002.03,-0.1],[2002.16,0.5],[2002.29,-0.1],[2002.45,-0.1],
  [2002.57,-0.1],[2002.70,-0.4],[2002.80,-0.9],[2002.99,-0.6],[2001.46,-1.2],[2001.55,-1.4],[2001.65,-2.0],[2001.75,-1.7],
  [2001.84,-2.3],[2002.00,-2.5],[2002.13,-2.0],[2002.25,-1.7],[2002.35,-2.5],[2002.48,-2.3],[2002.60,-2.0],[2002.73,-2.3],
  [2002.86,-2.8],[2002.99,-3.9],[2003.08,-3.3],[2001.43,-3.1],[2001.55,-2.8],[2001.65,-3.3],[2001.71,-3.9],[2001.81,-3.9],
  [2001.90,-3.3],[2002.00,-3.9],[2001.94,-4.4],[2002.16,-3.6],[2002.29,-3.9],[2002.45,-3.6],[2002.67,-3.9],[2002.80,-3.6],
  [2002.89,-5.0],[2002.95,-5.8],[2003.02,-6.0],[2002.99,-7.1],[2003.05,-5.0],[2001.43,-5.2],[2001.66,-5.1],[2001.81,-5.5],
  [2001.87,-5.0],[2001.78,-5.6],[2001.84,-6.0],[2001.90,-6.5],[2001.87,-6.9],[2001.75,-6.9],[2001.84,-7.5],[2002.10,-6.0],
  [2002.37,-7.0],[2002.53,-6.7],[2001.47,-7.9],[2001.78,-9.1],[2002.25,-9.0],[2002.77,-8.1],[2002.89,-9.5],
  [2001.50,-0.6],[2001.53,0.9],[2001.56,-0.2],[2001.57,1.3],[2001.61,-0.6],[2001.63,0.8],[2001.66,-0.5],[2001.69,0.5],
  [2001.72,-1.3],[2001.73,0.2],[2001.76,-0.6],[2001.79,-1.7],[2001.82,-0.8],[2001.85,-2.1],[2001.88,-1.3],[2001.89,-3.3],
  [2001.92,-2.3],[2001.95,-3.6],[2001.96,-2.4],[2001.99,-2.9],[2002.01,-3.3],[2002.04,-1.9],[2002.07,-2.9],[2002.09,-1.2],
  [2002.11,-2.2],[2002.14,-0.8],[2002.17,-1.9],[2002.19,-0.6],[2002.21,-1.4],[2002.24,-0.3],[2002.27,-1.4],[2002.30,-0.6],
  [2002.32,0.4],[2002.36,-0.9],[2002.39,0.2],[2002.42,-0.7],[2002.44,0.6],[2002.47,-0.8],[2002.50,0.3],[2002.52,-0.6],
  [2002.55,0.8],[2002.58,-0.3],[2002.62,1.1],[2002.63,-0.4],[2002.66,1.4],[2002.68,0.2],[2002.72,0.5],[2002.74,-0.8],
  [2002.77,0.2],[2002.79,-1.4],[2002.82,-0.4],[2002.84,-1.8],[2002.87,-2.0],[2002.88,-3.2],[2002.91,-2.4],[2002.94,-3.6],
  [2002.97,-4.6],[2003.00,-3.4],[2003.01,-5.3],[2003.03,-4.0],[2003.04,-5.6],[2003.06,-3.0],[2003.09,-4.6],[2003.11,-2.4],
  [2003.13,-3.4],[2003.17,-2.0],[2003.19,-3.1],[2003.22,-1.8],[2003.26,-3.0],[2003.28,-1.4],[2003.30,-2.6],[2003.33,-1.2],
  [2003.36,-2.9],[2003.39,-1.4],[2003.41,-2.2],[2003.44,-0.9],[2003.47,-1.9],[2003.49,-0.6],[2003.52,-1.6],[2003.54,-0.4],
  [2003.58,-1.6],[2003.60,-2.6],[2003.63,-1.2],[2003.65,-3.1],[2003.67,-2.2],[2003.70,-3.4],[2003.72,-2.0],[2003.74,-3.0],
  [2003.77,-1.8],[2003.79,-3.3],[2003.83,-1.9],[2003.86,-2.8],[2003.89,-1.4],[2003.92,-2.6],[2003.95,-1.6],[2003.97,-2.6],
  [2004.00,-1.3],[2004.03,-2.2],[2004.05,-1.0],[2004.08,-1.8],[2004.12,-0.8],[2004.16,-1.9],[2004.18,-0.9],[2004.22,-2.0],
  [2004.25,-1.0],[2004.28,-1.8],[2004.31,-0.8],[2004.35,-1.9],[2004.38,-2.8],[2004.39,-1.6],[2004.41,-3.0],[2004.44,-1.0],
  [2004.46,0.7],[2004.48,-0.6],[2004.51,0.3],[2004.54,-0.8],[2004.57,0.4],[2004.60,-0.9],[2004.63,0.2],[2004.66,-1.0],
  [2004.69,-0.3],[2004.72,-1.6],[2004.76,-0.6],[2004.79,-1.4],[2004.81,-2.4],[2004.84,-1.5],[2004.86,-2.8],[2004.88,-3.8],
  [2004.90,-3.2],[2004.92,-4.6],[2004.94,-3.9],[2004.95,-5.3],[2004.97,-4.2],[2004.98,-2.8],[2005.00,-2.4],
  [2001.48,0.3],[2001.51,-1.0],[2001.54,0.2],[2001.60,0.3],[2001.62,-1.2],[2001.67,0.4],[2001.70,-0.6],[2001.74,-1.2],
  [2001.77,-0.2],[2001.80,-1.1],[2001.83,-2.8],[2001.86,-1.6],[2001.91,-2.6],[2001.93,-3.4],[2001.98,-3.6],[2002.00,-2.0],
  [2002.02,-2.4],[2002.06,-2.2],[2002.08,-1.6],[2002.12,-1.1],[2002.15,-2.0],[2002.18,-1.2],[2002.20,-2.2],[2002.23,-0.8],
  [2002.26,-1.9],[2002.28,-0.5],[2002.31,-1.2],[2002.34,-0.2],[2002.38,-0.6],[2002.40,0.6],[2002.43,-1.1],[2002.46,0.1],
  [2002.49,-0.4],[2002.53,0.6],[2002.56,-0.8],[2002.59,0.6],[2002.61,-0.7],[2002.65,0.8],[2002.67,-0.2],[2002.69,1.6],
  [2002.71,0.2],[2002.73,1.2],[2002.76,-0.5],[2002.78,-0.8],[2002.81,-1.6],[2002.83,-0.6],[2002.85,-2.4],[2002.90,-3.3],
  [2002.92,-1.8],[2002.96,-3.0],[2002.98,-5.0],[2003.02,-3.0],[2003.05,-4.4],[2003.08,-2.7],[2003.10,-3.9],[2003.14,-2.4],
  [2003.16,-3.6],[2003.20,-2.8],[2003.23,-2.2],[2003.25,-3.4],[2003.29,-1.9],[2003.32,-2.4],[2003.35,-1.6],[2003.38,-2.0],
  [2003.40,-1.0],[2003.42,-1.6],[2003.46,-1.2],[2003.48,-2.2],[2003.51,-1.0],[2003.55,-1.8],[2003.57,-0.6],[2003.59,-1.1],
  [2003.62,-2.4],[2003.66,-1.6],[2003.68,-2.8],[2003.71,-3.0],[2003.73,-2.4],[2003.76,-3.1],[2003.78,-2.2],[2003.81,-1.7],
  [2003.84,-2.9],[2003.87,-2.2],[2003.90,-1.9],[2003.93,-2.5],[2003.96,-1.2],[2003.99,-2.4],[2004.02,-1.6],[2004.04,-2.0],
  [2004.07,-1.2],[2004.09,-2.4],[2004.13,-1.5],[2004.15,-0.6],[2004.17,-1.3],[2004.19,-2.3],[2004.21,-1.1],[2004.24,-1.6],
  [2004.27,-0.6],[2004.29,-1.4],[2004.32,-2.2],[2004.34,-1.2],[2004.37,-1.8],[2004.40,-2.2],[2004.43,-2.6],[2004.45,-0.4],
  [2004.47,0.2],[2004.50,-0.4],[2004.53,0.6],[2004.56,-0.5],[2004.59,0.3],[2004.62,-0.4],[2004.64,-0.9],[2004.67,0.3],
  [2004.70,-0.6],[2004.73,-1.0],[2004.75,-0.4],[2004.77,-1.2],[2004.80,-0.8],[2004.83,-2.0],[2004.85,-3.0],[2004.89,-4.2],
  [2004.91,-3.6],[2004.93,-4.8],[2004.96,-3.3],[2004.99,-3.4],
  [2004.71,9.3],[2003.74,6.6],[2003.51,5.4],[2003.94,5.3],[2004.23,3.7],[2003.24,4.4],[2003.08,2.6],[2003.23,3.4],
  [2003.34,2.6],[2003.45,2.9],[2003.53,2.1],[2003.66,2.6],[2003.78,2.4],[2003.96,1.3],[2004.04,1.5],[2004.14,2.4],
  [2004.23,1.8],[2004.36,2.4],[2004.42,3.2],[2004.52,2.6],[2004.61,2.1],[2004.71,3.2],[2003.18,1.0],[2003.31,0.5],
  [2003.43,0.2],[2003.56,0.5],[2003.69,-0.1],[2003.82,-0.1],[2003.93,-0.1],[2004.07,0.5],[2004.20,-0.1],[2004.33,0.5],
  [2004.49,0.5],[2004.61,-0.1],[2004.71,0.2],[2003.12,-1.2],[2003.24,-0.9],[2003.37,-1.2],[2003.50,-0.6],[2003.66,-0.9],
  [2003.78,-1.2],[2003.94,-0.9],[2004.10,-0.9],[2004.23,-0.6],[2004.36,-0.9],[2004.52,-1.2],[2004.65,-1.4],[2003.15,-2.5],
  [2003.27,-2.0],[2003.40,-2.5],[2003.53,-2.3],[2003.75,-2.0],[2003.88,-2.5],[2004.04,-2.5],[2004.14,-3.1],[2004.26,-2.3],
  [2004.42,-2.0],[2004.55,-2.3],[2004.68,-2.8],[2003.05,-3.9],[2003.12,-4.4],[2003.21,-3.9],[2003.34,-4.4],[2003.43,-3.6],
  [2003.53,-3.9],[2003.63,-3.9],[2003.71,-4.7],[2003.82,-4.4],[2003.98,-3.9],[2004.10,-3.6],[2004.23,-3.9],[2004.33,-3.6],
  [2004.42,-3.9],[2004.52,-3.6],[2003.07,-5.2],[2003.15,-7.1],[2003.24,-6.7],[2003.31,-5.8],[2003.43,-5.5],[2003.55,-6.3],
  [2003.61,-6.5],[2003.64,-8.6],[2003.34,-7.9],[2003.59,-7.5],[2003.80,-6.6],[2003.92,-7.3],[2003.98,-7.6],[2004.01,-8.4],
  [2003.94,-9.8],[2004.15,-5.8],[2004.17,-6.2],[2004.20,-7.0],[2004.21,-7.5],[2004.33,-7.7],[2004.30,-8.9],[2004.34,-9.4],
  [2004.41,-9.7],[2004.22,-5.1],[2004.36,-4.4],[2004.47,-4.6],[2004.65,-6.6],[2004.69,-5.1],
  [2004.71,9.2],[2005.50,9.0],[2005.57,8.6],[2005.54,8.1],[2005.57,7.2],[2005.55,6.7],[2005.59,6.4],[2005.54,6.2],
  [2005.44,5.9],[2005.63,5.3],[2005.60,4.8],[2005.95,4.8],[2004.98,3.3],[2005.08,4.3],[2004.71,4.5],[2004.61,4.3],
  [2004.74,2.6],[2004.56,2.1],[2004.61,1.3],[2004.68,0.7],[2004.74,0.5],[2004.77,1.0],[2004.82,0.5],[2005.12,1.3],
  [2005.19,1.5],[2005.28,1.0],[2005.38,1.8],[2005.44,2.6],[2005.50,3.2],[2005.60,3.2],[2005.66,2.6],[2005.73,1.5],
  [2005.82,2.1],[2005.89,1.0],[2006.01,1.5],[2006.08,1.3],[2004.58,-0.1],[2004.68,-0.6],[2004.77,-0.1],[2004.84,-0.6],
  [2005.06,-0.1],[2005.15,0.5],[2005.25,-0.1],[2005.38,-0.1],[2005.47,0.5],[2005.57,-0.1],[2005.66,0.5],[2005.76,-0.1],
  [2005.85,-0.6],[2005.95,-0.1],[2006.05,-0.1],[2004.61,-1.7],[2004.71,-1.2],[2004.80,-1.7],[2004.90,-2.3],[2005.06,-1.7],
  [2005.15,-2.0],[2005.28,-1.4],[2005.38,-2.0],[2005.50,-1.7],[2005.60,-2.0],[2005.70,-1.7],[2005.79,-2.0],[2005.89,-1.7],
  [2005.98,-2.3],[2006.08,-2.5],[2004.61,-3.6],[2004.68,-4.0],[2004.84,-3.9],[2004.87,-4.4],[2004.90,-5.0],[2004.96,-5.0],
  [2004.99,-4.4],[2005.19,-3.3],[2005.31,-3.1],[2005.38,-3.9],[2005.50,-3.6],[2005.63,-3.9],[2005.82,-3.3],[2005.89,-3.6],
  [2005.98,-3.9],[2006.08,-3.9],[2004.87,-5.5],[2004.88,-6.2],[2004.93,-5.9],[2004.87,-6.7],[2004.87,-7.1],[2004.85,-8.2],
  [2004.90,-8.2],[2004.65,-6.7],[2005.01,-5.5],[2005.07,-9.0],[2005.24,-8.3],[2005.46,-5.5],[2005.50,-5.6],[2005.65,-5.2],
  [2005.89,-7.9],[2006.03,-6.0],[2006.03,-8.1],[2006.09,-4.6],[2005.98,-4.7],[2005.41,-4.8],
  [2005.02,-0.6],[2005.04,-1.8],[2005.05,-0.4],[2005.07,-1.6],[2005.08,-0.7],[2005.10,-1.9],[2005.11,-0.3],[2005.13,-1.4],
  [2005.16,-0.6],[2005.17,-1.8],[2005.20,-0.3],[2005.22,-1.4],[2005.24,-0.5],[2005.26,-1.2],[2005.27,0.3],[2005.30,-1.0],
  [2005.32,-0.2],[2005.34,-1.3],[2005.36,0.4],[2005.37,-0.8],[2005.40,0.2],[2005.42,-1.1],[2005.43,0.8],[2005.45,-0.6],
  [2005.48,1.2],[2005.49,-0.4],[2005.52,1.8],[2005.53,0.3],[2005.55,2.3],[2005.56,0.9],[2005.58,1.6],[2005.59,2.8],
  [2005.61,1.9],[2005.62,0.7],[2005.64,1.4],[2005.65,2.1],[2005.68,0.6],[2005.69,1.8],[2005.71,0.1],[2005.72,0.9],
  [2005.74,-0.8],[2005.75,0.4],[2005.78,-1.0],[2005.80,0.3],[2005.81,-1.2],[2005.84,-0.2],[2005.86,-1.3],[2005.87,0.2],
  [2005.90,-1.0],[2005.91,0.4],[2005.93,-1.4],[2005.94,-0.4],[2005.97,-1.0],[2005.99,-1.8],[2006.00,-0.8],[2006.03,-2.0],
  [2006.04,-1.0],[2006.06,-2.6],[2006.07,-1.4],[2006.09,-2.2],[2006.10,-0.6],[2006.12,-1.6],
];

const toPoints = (arr: [number, number][]) => arr.map(([x, y]) => ({ x, y }));

function font(size: number) {
  return `bold ${size}px ${FONT}`;
}

const decorPlugin = {
  id: "decor",
  afterDatasetsDraw(chart: any) {
    const { ctx, chartArea: a, scales } = chart;
    const xs = scales.x;
    const ys = scales.y;
    ctx.save();

    // plot border (top and right, light grey)
    ctx.strokeStyle = "#a0a0a0";
    ctx.lineWidth = 1.5;
    ctx.beginPath();
    ctx.moveTo(a.left, a.top + 0.5);
    ctx.lineTo(a.right - 0.75, a.top + 0.5);
    ctx.lineTo(a.right - 0.75, a.bottom);
    ctx.stroke();

    // x tick marks crossing the axis
    ctx.strokeStyle = "#000";
    ctx.lineWidth = 1;
    ctx.beginPath();
    for (const t of yearTicks) {
      const px = Math.round(xs.getPixelForValue(t)) + 0.5;
      ctx.moveTo(px, a.bottom - 8);
      ctx.lineTo(px, a.bottom + 6);
    }
    ctx.stroke();

    // period arrows
    const ay = ys.getPixelForValue(arrowLevel);
    const drawArrow = (x1: number, x2: number, headAtEnd: boolean) => {
      ctx.strokeStyle = "#000";
      ctx.fillStyle = "#000";
      ctx.lineWidth = 3;
      ctx.beginPath();
      ctx.moveTo(x1, ay);
      ctx.lineTo(x2, ay);
      ctx.stroke();
      const tip = headAtEnd ? x2 : x1;
      const dir = headAtEnd ? -1 : 1;
      ctx.beginPath();
      ctx.moveTo(tip, ay);
      ctx.lineTo(tip + dir * 11, ay - 5.5);
      ctx.lineTo(tip + dir * 11, ay + 5.5);
      ctx.closePath();
      ctx.fill();
    };
    drawArrow(xs.getPixelForValue(1996.59), xs.getPixelForValue(2005.025), true);
    drawArrow(xs.getPixelForValue(2005.068), xs.getPixelForValue(2006.175), false);

    // vertical change line
    const cx = xs.getPixelForValue(changeDate);
    ctx.strokeStyle = "#000";
    ctx.lineWidth = 4;
    ctx.beginPath();
    ctx.moveTo(cx, ys.getPixelForValue(14.2));
    ctx.lineTo(cx, a.bottom - 2);
    ctx.stroke();

    // text boxes
    const box = (text: string, cxv: number, cyv: number, w: number, h: number) => {
      const px = xs.getPixelForValue(cxv);
      const py = ys.getPixelForValue(cyv);
      ctx.fillStyle = "#fff";
      ctx.fillRect(px - w / 2, py - h / 2, w, h);
      ctx.strokeStyle = "#000";
      ctx.lineWidth = 1;
      ctx.strokeRect(Math.round(px - w / 2) + 0.5, Math.round(py - h / 2) + 0.5, w, h);
      ctx.fillStyle = "#000";
      ctx.font = font(23);
      ctx.textAlign = "center";
      ctx.textBaseline = "middle";
      ctx.fillText(text, px, py + 1);
    };
    box(changeLabel, 2004.985, 15.55, 137, 35);
    box(periodLabels[0], 2000.85, -15.55, 158, 30);
    box(periodLabels[1], 2005.645, -15.55, 93, 30);

    // legend
    ctx.fillStyle = "#fff";
    ctx.fillRect(213, 114, 713, 95);
    ctx.strokeStyle = "#000";
    ctx.lineWidth = 1;
    ctx.strokeRect(213.5, 114.5, 712, 94);
    ctx.font = font(23);
    ctx.textAlign = "left";
    ctx.textBaseline = "middle";
    ctx.fillStyle = RED;
    ctx.beginPath();
    ctx.arc(246, 139, 2.2, 0, Math.PI * 2);
    ctx.fill();
    ctx.fillStyle = BLUE;
    ctx.beginPath();
    ctx.arc(603, 139, 2.2, 0, Math.PI * 2);
    ctx.fill();
    ctx.lineCap = "round";
    ctx.lineWidth = 6;
    ctx.strokeStyle = RED;
    ctx.beginPath();
    ctx.moveTo(221, 186);
    ctx.lineTo(261, 186);
    ctx.stroke();
    ctx.strokeStyle = BLUE;
    ctx.beginPath();
    ctx.moveTo(589, 186);
    ctx.lineTo(617, 186);
    ctx.stroke();
    ctx.lineCap = "butt";
    ctx.fillStyle = "#000";
    ctx.fillText(seriesNames[0], 267, 140);
    ctx.fillText(seriesNames[1], 623, 140);
    ctx.fillText(seriesNames[2], 287, 187);
    ctx.fillText(seriesNames[3], 643, 187);

    ctx.restore();
  },
  afterDraw(chart: any) {
    const { ctx } = chart;
    ctx.save();
    ctx.fillStyle = "#000";
    ctx.textAlign = "center";
    ctx.textBaseline = "middle";
    ctx.font = font(26.4);
    ctx.fillText(titleLines[0], 597, 25);
    ctx.fillText(titleLines[1], 598, 58);
    ctx.font = font(23);
    ctx.fillText(xAxisTitle, 639, 659);
    ctx.translate(24, 340.5);
    ctx.rotate(-Math.PI / 2);
    ctx.fillText(yAxisTitle, 0, 0);
    ctx.restore();
  },
};

export default function App() {
  const ref = useRef<HTMLCanvasElement | null>(null);

  useEffect(() => {
    document.body.style.margin = "0";
    const canvas = ref.current;
    if (!canvas) return;
    const tickFont = { family: FONT, size: 23, weight: "bold" as const };
    const chart = new Chart(canvas, {
      type: "scatter",
      data: {
        datasets: [
          {
            label: seriesNames[3],
            data: toPoints(correctedSmoothed),
            showLine: true,
            borderColor: BLUE,
            borderWidth: 6,
            pointRadius: 0,
            tension: 0,
            fill: false,
          },
          {
            label: seriesNames[2],
            data: toPoints(uncorrectedSmoothed),
            showLine: true,
            borderColor: RED,
            borderWidth: 6,
            pointRadius: 0,
            tension: 0,
            fill: false,
          },
          {
            label: seriesNames[1],
            data: toPoints(correctedDaily),
            showLine: false,
            pointRadius: 2.6,
            pointBorderWidth: 0,
            backgroundColor: BLUE,
            borderColor: BLUE,
          },
          {
            label: seriesNames[0],
            data: toPoints(uncorrectedDaily),
            showLine: false,
            pointRadius: 2.4,
            pointBorderWidth: 0,
            backgroundColor: RED,
            borderColor: RED,
          },
        ],
      },
      options: {
        responsive: false,
        animation: false,
        events: [],
        layout: { padding: { top: 95, right: 2, left: 0, bottom: 0 } },
        plugins: { legend: { display: false }, tooltip: { enabled: false }, title: { display: false } },
        scales: {
          x: {
            type: "linear",
            min: 1996,
            max: 2006.222,
            afterBuildTicks: (s: any) => {
              s.ticks = yearTicks.map((v) => ({ value: v }));
            },
            afterFit: (s: any) => {
              s.height = 83;
              s.paddingLeft = 0;
              s.paddingRight = 0;
            },
            grid: { display: true, drawOnChartArea: false, drawTicks: false },
            border: { display: true, color: "#000", width: 2 },
            ticks: {
              autoSkip: false,
              maxRotation: 0,
              minRotation: 0,
              padding: 20,
              color: "#000",
              font: tickFont,
              callback: (v: any) => {
                const i = yearTicks.indexOf(Number(v));
                return i >= 0 ? yearLabels[i] : "";
              },
            },
          },
          y: {
            type: "linear",
            min: -20,
            max: 20,
            afterBuildTicks: (s: any) => {
              s.ticks = valueTicks.map((v) => ({ value: v }));
            },
            afterFit: (s: any) => {
              s.width = 95;
              s.paddingTop = 0;
              s.paddingBottom = 0;
            },
            grid: {
              color: (c: any) =>
                c.tick && (c.tick.value === 20 || c.tick.value === -20) ? "rgba(0,0,0,0)" : "#000",
              lineWidth: 1,
              tickLength: 8,
              tickColor: "#000",
              tickWidth: 1,
            },
            border: { display: true, color: "#000", width: 2, dash: [7, 5] },
            ticks: {
              padding: 10,
              color: "#000",
              font: tickFont,
              callback: (v: any) => String(v),
            },
          },
        },
      },
      plugins: [decorPlugin],
    });
    return () => chart.destroy();
  }, []);

  return (
    <div style={{ width: 1167, height: 670 }}>
      <canvas ref={ref} width={1167} height={670} style={{ display: "block", width: 1167, height: 670 }} />
    </div>
  );
}
